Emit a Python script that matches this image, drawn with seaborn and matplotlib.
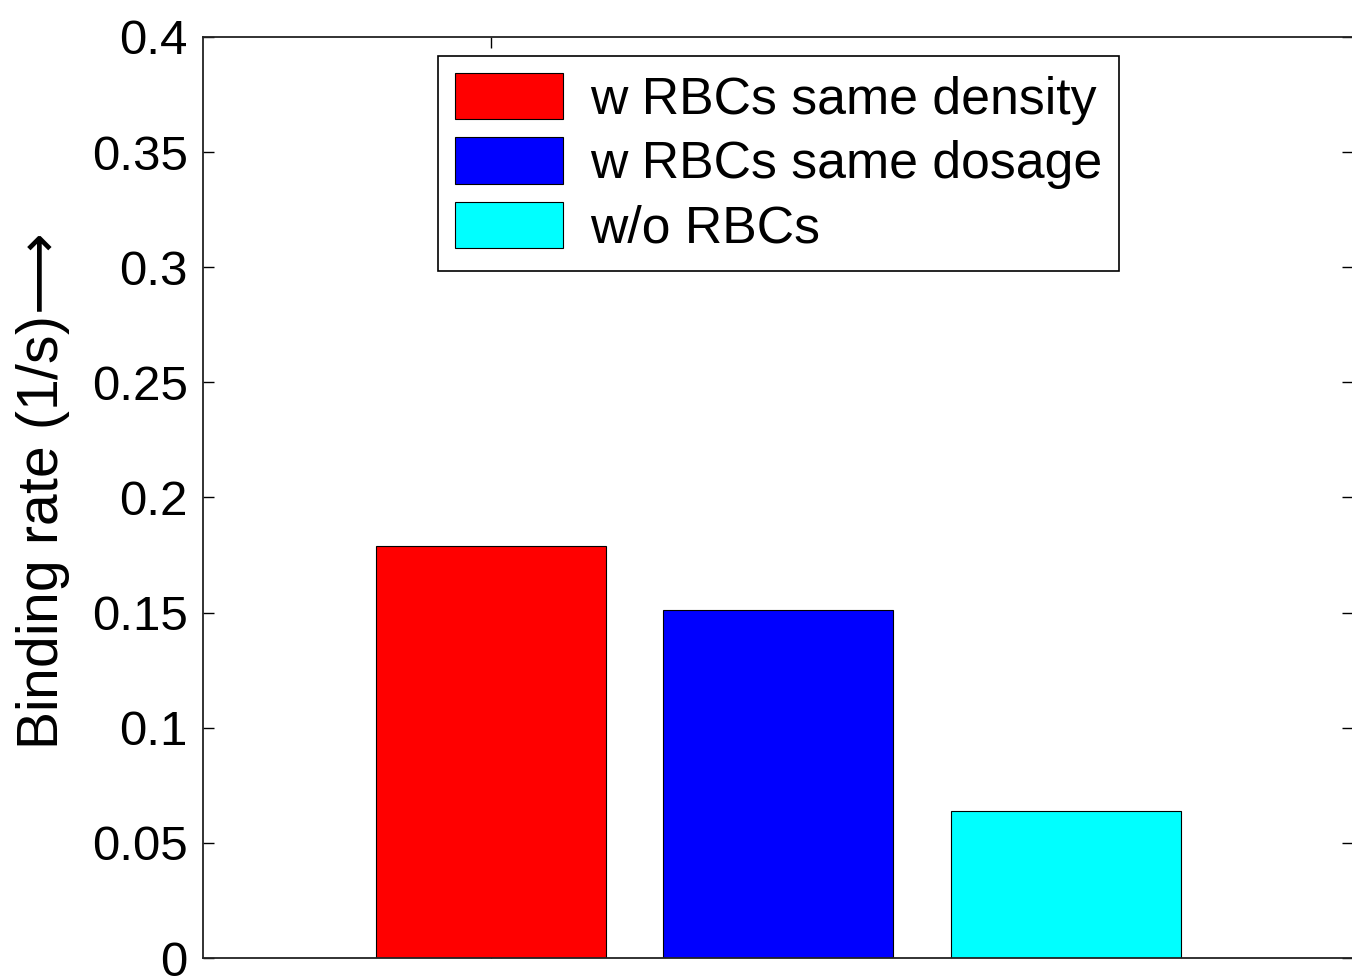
import matplotlib
matplotlib.use("Agg")
import matplotlib.pyplot as plt
import seaborn as sns
import pandas as pd
from matplotlib.patches import Patch

# ---- data ----
series = ["w RBCs same density", "w RBCs same dosage", "w/o RBCs"]
values = [0.179, 0.151, 0.064]
colors = ["#FF0000", "#0000FF", "#00FFFF"]
yticks = [0, 0.05, 0.1, 0.15, 0.2, 0.25, 0.3, 0.35, 0.4]
ytick_labels = ["0", "0.05", "0.1", "0.15", "0.2", "0.25", "0.3", "0.35", "0.4"]
ylabel = "Binding rate (1/s)$\\!\\longrightarrow$"

sns.set_theme(style="white")
plt.rcParams['font.family'] = ['Liberation Sans', 'DejaVu Sans']
plt.rcParams['mathtext.fontset'] = 'dejavusans'
plt.rcParams['text.color'] = 'black'
plt.rcParams['axes.labelcolor'] = 'black'
plt.rcParams['xtick.color'] = 'black'
plt.rcParams['ytick.color'] = 'black'

W, H = 1352, 980
fig = plt.figure(figsize=(W / 100, H / 100), dpi=100)
ax = fig.add_axes([203 / W, 22 / H, 1150 / W, 921 / H])

df = pd.DataFrame({"series": series, "value": values})
sns.barplot(data=df, x="series", y="value", hue="series", palette=colors,
            width=0.8, edgecolor="black", linewidth=0.8, saturation=1,
            legend=False, ax=ax)

ax.set_xlim(-1, 3)
ax.set_ylim(0, 0.4)
ax.set_xticks([0])
ax.set_xticklabels([""])
ax.set_xlabel("")
ax.set_yticks(yticks)
ax.set_yticklabels(ytick_labels)
ax.tick_params(axis="both", direction="in", length=8, width=1.0, colors="black",
               top=True, right=True, bottom=True, left=True,
               labelsize=35.5, pad=11)
for s in ax.spines.values():
    s.set_visible(True)
    s.set_color("#222222")
    s.set_linewidth(1.3)

ax.set_ylabel(ylabel, fontsize=41, color="black")
ax.yaxis.set_label_coords(-0.114, 0.506)

handles = [Patch(facecolor=c, edgecolor="black", linewidth=0.8, label=s)
           for s, c in zip(series, colors)]
leg = ax.legend(handles=handles, loc="upper left",
                bbox_to_anchor=(438 / W, 1 - 56 / H), bbox_transform=fig.transFigure,
                fontsize=37.3, frameon=True, fancybox=False, edgecolor="black",
                framealpha=1, handlelength=2.08, handleheight=1.0,
                labelspacing=0.24, borderpad=0.33, handletextpad=0.52,
                borderaxespad=0)
leg.get_frame().set_linewidth(1.2)

fig.savefig("out.png", dpi=100, facecolor="white")
